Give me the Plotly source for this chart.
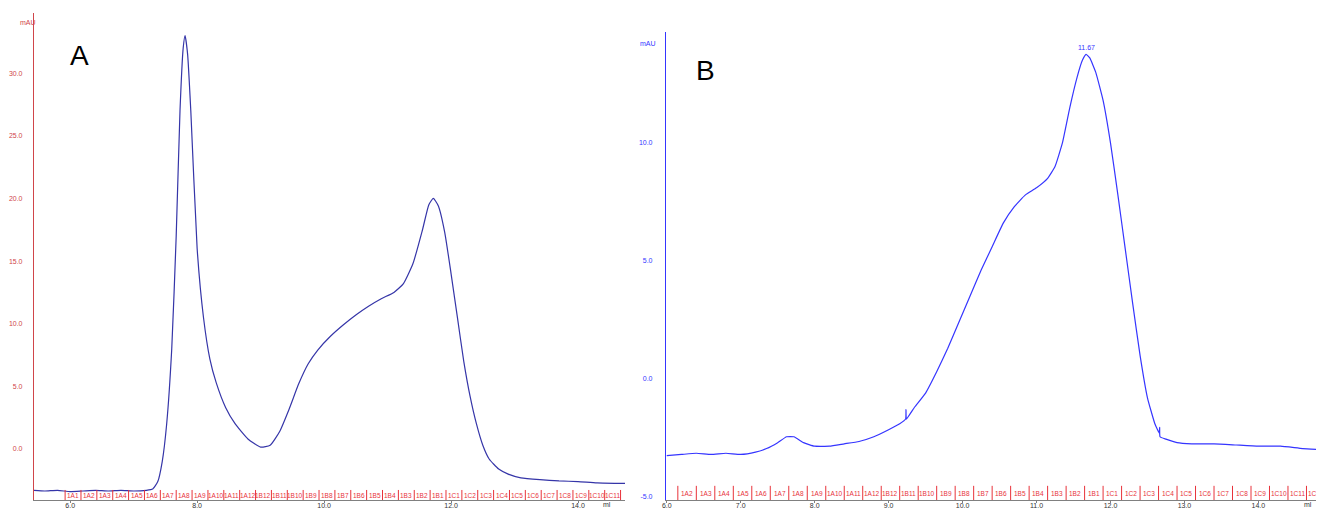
import plotly.graph_objects as go

# ---------------- data ----------------
a_ml = [5.43, 5.6, 5.8, 6.0, 6.2, 6.4, 6.6, 6.8, 7.0, 7.2, 7.3, 7.38, 7.45, 7.52, 7.6, 7.67,
        7.73, 7.78, 7.81, 7.85, 7.9, 8.0, 8.1, 8.2, 8.3, 8.45, 8.6, 8.8, 9.0, 9.15, 9.3,
        9.45, 9.6, 9.75, 9.9, 10.1, 10.3, 10.5, 10.7, 10.9, 11.1, 11.25, 11.4, 11.55, 11.65,
        11.72, 11.8, 11.9, 12.0, 12.1, 12.2, 12.3, 12.4, 12.5, 12.6, 12.75, 12.9, 13.1, 13.4,
        13.7, 14.0, 14.3, 14.74]
a_mau = [-3.3, -3.35, -3.3, -3.4, -3.35, -3.3, -3.35, -3.3, -3.35, -3.3, -3.2, -2.6, -1.0, 2.0,
         8.0, 17.0, 27.0, 32.0, 33.0, 31.5, 27.0, 16.0, 10.5, 7.2, 5.3, 3.3, 2.0, 0.8, 0.15,
         0.3, 1.4, 3.2, 5.2, 6.8, 7.9, 9.0, 9.9, 10.7, 11.4, 12.0, 12.5, 13.2, 14.8, 17.5,
         19.5, 20.0, 19.4, 17.3, 14.0, 10.5, 7.0, 4.2, 2.0, 0.3, -0.8, -1.6, -2.0, -2.3,
         -2.45, -2.55, -2.6, -2.7, -2.75]

b_ml = [6.0, 6.2, 6.4, 6.6, 6.8, 7.0, 7.2, 7.35, 7.5, 7.62, 7.72, 7.85, 8.0, 8.2, 8.4, 8.6,
        8.8, 9.0, 9.15, 9.23, 9.235, 9.24, 9.35, 9.5, 9.65, 9.8, 9.95, 10.1, 10.25, 10.4,
        10.55, 10.7, 10.85, 11.0, 11.15, 11.25, 11.35, 11.45, 11.55, 11.62, 11.67, 11.72,
        11.8, 11.9, 12.0, 12.1, 12.2, 12.3, 12.4, 12.5, 12.6, 12.66, 12.665, 12.67, 12.75,
        12.9, 13.1, 13.4, 13.7, 14.0, 14.3, 14.6, 14.86]
b_mau = [-3.25, -3.2, -3.15, -3.2, -3.15, -3.2, -3.1, -2.95, -2.7, -2.45, -2.45, -2.7, -2.85,
         -2.85, -2.75, -2.65, -2.45, -2.15, -1.9, -1.7, -1.3, -1.7, -1.2, -0.6, 0.3, 1.3,
         2.4, 3.5, 4.6, 5.6, 6.6, 7.3, 7.8, 8.1, 8.5, 9.0, 10.0, 11.5, 12.8, 13.5, 13.75,
         13.6, 13.0, 11.8, 10.0, 7.8, 5.5, 3.2, 1.0, -0.8, -1.9, -2.3, -2.05, -2.45, -2.55,
         -2.7, -2.75, -2.75, -2.8, -2.85, -2.85, -2.95, -3.0]

b_peak_ml = 11.67
b_peak_mau = 13.75

fractions_a = ["1A1", "1A2", "1A3", "1A4", "1A5", "1A6", "1A7", "1A8", "1A9", "1A10", "1A11", "1A12",
               "1B12", "1B11", "1B10", "1B9", "1B8", "1B7", "1B6", "1B5", "1B4", "1B3", "1B2", "1B1",
               "1C1", "1C2", "1C3", "1C4", "1C5", "1C6", "1C7", "1C8", "1C9", "1C10", "1C11"]
fractions_b = ["1A2", "1A3", "1A4", "1A5", "1A6", "1A7", "1A8", "1A9", "1A10", "1A11", "1A12",
               "1B12", "1B11", "1B10", "1B9", "1B8", "1B7", "1B6", "1B5", "1B4", "1B3", "1B2", "1B1",
               "1C1", "1C2", "1C3", "1C4", "1C5", "1C6", "1C7", "1C8", "1C9", "1C10", "1C11", "1C12"]
frac_a_start = 5.92
frac_b_start = 6.15
frac_width = 0.25

xt_a = [6.0, 8.0, 10.0, 12.0, 14.0]
yt_a = [0.0, 5.0, 10.0, 15.0, 20.0, 25.0, 30.0]
xt_b = [6.0, 7.0, 8.0, 9.0, 10.0, 11.0, 12.0, 13.0, 14.0]
yt_b = [-5.0, 0.0, 5.0, 10.0]

# ---------------- layout constants ----------------
OFF = 8  # default page body margin
W, H = 1324 - OFF, 510 - OFF
FONT = "Arial, Liberation Sans, sans-serif"
RED_A = "#d0454a"
RED_F = "#e8323a"
NAVY = "#3535a8"
BLUE = "#3535ff"
GRAY = "#808080"


def px(x):
    return (x - OFF) / W


def py(y):
    return 1 - (y - OFF) / H


xr_a = [5.43, 14.74]
yr_a = [-4.07, 34.8]
xr_b = [5.99, 14.86]
yr_b = [-5.13, 14.7]

fig = go.Figure()

fig.add_trace(go.Scatter(x=a_ml, y=a_mau, mode="lines", xaxis="x", yaxis="y",
                         line=dict(color=NAVY, width=1.2, shape="spline", smoothing=0.5),
                         hoverinfo="skip", showlegend=False))
fig.add_trace(go.Scatter(x=b_ml, y=b_mau, mode="lines", xaxis="x2", yaxis="y2",
                         line=dict(color=BLUE, width=1.2, shape="spline", smoothing=0.4),
                         hoverinfo="skip", showlegend=False))

annotations = []


def fraction_marks(labels, start, ymin, tick_h, xa, ya, xr):
    xs, ys = [], []
    for i, lab in enumerate(labels):
        b = start + i * frac_width
        xs += [b, b, None]
        ys += [ymin, ymin + tick_h, None]
        c = b + frac_width / 2
        if c < xr[1]:
            annotations.append(dict(x=c, y=ymin + tick_h * 0.45, xref=xa, yref=ya, text=lab,
                                    showarrow=False, font=dict(family=FONT, size=6.5, color=RED_F),
                                    xanchor="center", yanchor="middle"))
    end = start + len(labels) * frac_width
    if end <= xr[1]:
        xs += [end, end, None]
        ys += [ymin, ymin + tick_h, None]
    return xs, ys


fxa, fya = fraction_marks(fractions_a, frac_a_start, yr_a[0], 0.8, "x", "y", xr_a)
fig.add_trace(go.Scatter(x=fxa, y=fya, mode="lines", xaxis="x", yaxis="y",
                         line=dict(color=RED_F, width=1), hoverinfo="skip", showlegend=False))
fxb, fyb = fraction_marks(fractions_b, frac_b_start, yr_b[0], 0.6, "x2", "y2", xr_b)
fig.add_trace(go.Scatter(x=fxb, y=fyb, mode="lines", xaxis="x2", yaxis="y2",
                         line=dict(color=RED_F, width=1), hoverinfo="skip", showlegend=False))

# peak label
annotations.append(dict(x=b_peak_ml, y=b_peak_mau, xref="x2", yref="y2", text="11.67",
                        showarrow=False, yshift=7, font=dict(family=FONT, size=7, color=BLUE)))

# unit labels
annotations += [
    dict(x=px(18), y=py(17), xref="paper", yref="paper", text="mAU", showarrow=False,
         font=dict(family=FONT, size=7, color=RED_A)),
    dict(x=px(648), y=py(38), xref="paper", yref="paper", text="mAU", showarrow=False,
         font=dict(family=FONT, size=7, color=BLUE)),
    dict(x=px(607), y=py(504), xref="paper", yref="paper", text="ml", showarrow=False,
         yanchor="middle", borderpad=0, font=dict(family=FONT, size=7, color="#333333")),
    dict(x=px(1313), y=py(504), xref="paper", yref="paper", text="ml", showarrow=False,
         yanchor="middle", borderpad=0, font=dict(family=FONT, size=7, color="#333333")),
    dict(x=px(68), y=py(38), xref="paper", yref="paper", text="A", showarrow=False,
         font=dict(family=FONT, size=28, color="black")),
    dict(x=px(705), y=py(53), xref="paper", yref="paper", text="B", showarrow=False,
         font=dict(family=FONT, size=28, color="black")),
]

tick_font = dict(family=FONT, size=7, color="#333333")

fig.update_layout(
    width=W, height=H,
    margin=dict(l=0, r=0, t=0, b=0),
    paper_bgcolor="white", plot_bgcolor="white",
    showlegend=False,
    annotations=annotations,
    xaxis=dict(domain=[px(34), px(625)], range=xr_a, tickvals=xt_a, automargin=False,
               ticktext=[f"{v:.1f}" for v in xt_a], showgrid=False, zeroline=False,
               showline=True, linecolor=GRAY, linewidth=1, ticks="outside", ticklen=2,
               tickcolor=GRAY, tickfont=tick_font, ticklabelstandoff=-3, anchor="y"),
    yaxis=dict(domain=[py(500), py(13)], range=yr_a, tickvals=yt_a, automargin=False,
               ticktext=[f"{v:.1f}" for v in yt_a], showgrid=False, zeroline=False,
               showline=True, linecolor=RED_A, linewidth=1.2, ticks="",
               ticklabelstandoff=9, tickfont=dict(family=FONT, size=7, color=RED_A), anchor="x"),
    xaxis2=dict(domain=[px(666), min(1.0, px(1322))], range=xr_b, tickvals=xt_b, automargin=False,
                ticktext=[f"{v:.1f}" for v in xt_b], showgrid=False, zeroline=False,
                showline=True, linecolor=GRAY, linewidth=1, ticks="outside", ticklen=2,
                tickcolor=GRAY, tickfont=tick_font, ticklabelstandoff=-3, anchor="y2"),
    yaxis2=dict(domain=[py(500), py(32)], range=yr_b, tickvals=yt_b, automargin=False,
                ticktext=[f"{v:.1f}" for v in yt_b], showgrid=False, zeroline=False,
                showline=True, linecolor=BLUE, linewidth=1.2, ticks="",
                ticklabelstandoff=11, tickfont=dict(family=FONT, size=7, color=BLUE), anchor="x2"),
)

fig.write_html("out.html")
